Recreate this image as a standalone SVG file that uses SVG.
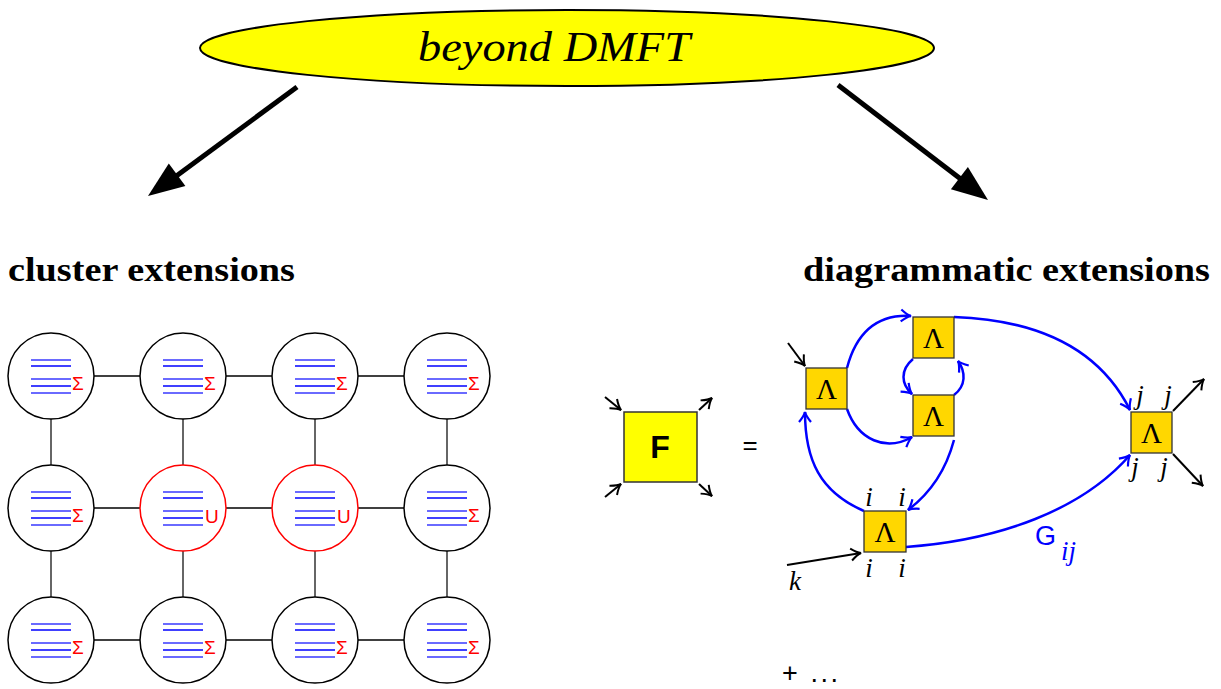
<svg xmlns="http://www.w3.org/2000/svg" width="1221" height="689" viewBox="0 0 1221 689">
  <style>
    .site { fill: #ffffff; stroke: #000000; stroke-width: 1.5; }
    .site.u { stroke: #ff0000; }
    .hbond { stroke: #000000; stroke-width: 1.3; }
    .vbond { stroke: #666666; stroke-width: 2; }
    .lvl1 { stroke: #6a6aff; stroke-width: 2; }
    .lvl2 { stroke: #0000ff; stroke-width: 1.5; }
    .mark { font-family: "Liberation Sans", "DejaVu Sans", sans-serif; font-size: 19px; fill: #ff0000; }
    .vertex rect { fill: #ffd700; stroke: #333333; stroke-width: 1.3; }
    .lam { font-family: "Liberation Serif", "DejaVu Serif", serif; font-size: 29px; fill: #000000; text-anchor: middle; }
    .idx { font-family: "Liberation Serif", "DejaVu Serif", serif; font-style: italic; font-size: 27px; fill: #000000; text-anchor: middle; }
    .prop { fill: none; stroke: #0000ff; stroke-width: 2.5; marker-end: url(#vb); }
    .leg { fill: none; stroke: #000000; stroke-width: 2; marker-end: url(#vk); }
    .heading { font-family: "Liberation Serif", "DejaVu Serif", serif; font-weight: bold; font-size: 34px; fill: #000000; }
  </style>
  <defs>
    <marker id="vb" viewBox="-12 -8 14 16" refX="0" refY="0" markerWidth="14" markerHeight="16" markerUnits="userSpaceOnUse" orient="auto">
      <path d="M-10,-6 Q-4,-1 0,0 Q-4,1 -10,6" fill="none" stroke="#0000ff" stroke-width="2.2"/>
    </marker>
    <marker id="vk" viewBox="-12 -8 14 16" refX="0" refY="0" markerWidth="14" markerHeight="16" markerUnits="userSpaceOnUse" orient="auto">
      <path d="M-10,-6 Q-4,-1 0,0 Q-4,1 -10,6" fill="none" stroke="#000000" stroke-width="2"/>
    </marker>
    <g id="levels">
      <line class="lvl1" x1="-20" y1="-16" x2="20" y2="-16"/>
      <line class="lvl2" x1="-20" y1="-10" x2="20" y2="-10"/>
      <line class="lvl1" x1="-20" y1="3" x2="20" y2="3"/>
      <line class="lvl2" x1="-20" y1="10" x2="20" y2="10"/>
      <line class="lvl1" x1="-20" y1="17" x2="20" y2="17"/>
    </g>
  </defs>

  <rect width="1221" height="689" fill="#ffffff"/>

  <!-- title -->
  <g id="title">
    <ellipse cx="567" cy="48" rx="367" ry="38" fill="#ffff00" stroke="#000000" stroke-width="2"/>
    <text x="554" y="61" text-anchor="middle" font-family="Liberation Serif, DejaVu Serif, serif" font-style="italic" font-size="43" textLength="272" lengthAdjust="spacingAndGlyphs">beyond DMFT</text>
  </g>

  <!-- branch arrows -->
  <g id="branches" stroke="#000000" stroke-width="5">
    <line x1="297" y1="87" x2="175" y2="177"/>
    <polygon points="148,196 185.4,186.1 168.8,163.5" fill="#000000" stroke="none"/>
    <line x1="838" y1="85" x2="962" y2="180"/>
    <polygon points="988,200 950.9,189.2 967.9,167.0" fill="#000000" stroke="none"/>
  </g>

  <text id="cluster-heading" class="heading" x="8" y="281" textLength="287" lengthAdjust="spacingAndGlyphs">cluster extensions</text>
  <text id="diagram-heading" class="heading" x="803" y="281" textLength="407" lengthAdjust="spacingAndGlyphs">diagrammatic extensions</text>

  <!-- lattice bonds -->
  <g id="bonds">
    <line class="hbond" x1="94" y1="376" x2="140" y2="376"/>
    <line class="hbond" x1="226" y1="376" x2="272" y2="376"/>
    <line class="hbond" x1="358" y1="376" x2="404" y2="376"/>
    <line class="hbond" x1="94" y1="508" x2="140" y2="508"/>
    <line class="hbond" x1="226" y1="508" x2="272" y2="508"/>
    <line class="hbond" x1="358" y1="508" x2="404" y2="508"/>
    <line class="hbond" x1="94" y1="640" x2="140" y2="640"/>
    <line class="hbond" x1="226" y1="640" x2="272" y2="640"/>
    <line class="hbond" x1="358" y1="640" x2="404" y2="640"/>
    <line class="vbond" x1="51" y1="419" x2="51" y2="465"/>
    <line class="vbond" x1="183" y1="419" x2="183" y2="465"/>
    <line class="vbond" x1="315" y1="419" x2="315" y2="465"/>
    <line class="vbond" x1="447" y1="419" x2="447" y2="465"/>
    <line class="vbond" x1="51" y1="551" x2="51" y2="597"/>
    <line class="vbond" x1="183" y1="551" x2="183" y2="597"/>
    <line class="vbond" x1="315" y1="551" x2="315" y2="597"/>
    <line class="vbond" x1="447" y1="551" x2="447" y2="597"/>
  </g>

  <!-- lattice sites -->
  <g id="site-0-0" transform="translate(51,376)"><circle class="site" r="43"/><use href="#levels"/><text class="mark" x="21" y="14">Σ</text></g>
  <g id="site-0-1" transform="translate(183,376)"><circle class="site" r="43"/><use href="#levels"/><text class="mark" x="21" y="14">Σ</text></g>
  <g id="site-0-2" transform="translate(315,376)"><circle class="site" r="43"/><use href="#levels"/><text class="mark" x="21" y="14">Σ</text></g>
  <g id="site-0-3" transform="translate(447,376)"><circle class="site" r="43"/><use href="#levels"/><text class="mark" x="21" y="14">Σ</text></g>
  <g id="site-1-0" transform="translate(51,508)"><circle class="site" r="43"/><use href="#levels"/><text class="mark" x="21" y="14">Σ</text></g>
  <g id="site-1-1" transform="translate(183,508)"><circle class="site u" r="43"/><use href="#levels"/><text class="mark" x="22" y="15" font-size="21">U</text></g>
  <g id="site-1-2" transform="translate(315,508)"><circle class="site u" r="43"/><use href="#levels"/><text class="mark" x="22" y="15" font-size="21">U</text></g>
  <g id="site-1-3" transform="translate(447,508)"><circle class="site" r="43"/><use href="#levels"/><text class="mark" x="21" y="14">Σ</text></g>
  <g id="site-2-0" transform="translate(51,640)"><circle class="site" r="43"/><use href="#levels"/><text class="mark" x="21" y="14">Σ</text></g>
  <g id="site-2-1" transform="translate(183,640)"><circle class="site" r="43"/><use href="#levels"/><text class="mark" x="21" y="14">Σ</text></g>
  <g id="site-2-2" transform="translate(315,640)"><circle class="site" r="43"/><use href="#levels"/><text class="mark" x="21" y="14">Σ</text></g>
  <g id="site-2-3" transform="translate(447,640)"><circle class="site" r="43"/><use href="#levels"/><text class="mark" x="21" y="14">Σ</text></g>

  <!-- full vertex F -->
  <g id="vertex-F">
    <rect x="624" y="412" width="73" height="70" fill="#ffff00" stroke="#333333" stroke-width="1.5"/>
    <text x="660" y="458" text-anchor="middle" font-family="Liberation Sans, DejaVu Sans, sans-serif" font-weight="bold" font-size="32">F</text>
    <path class="leg" d="M605,397 L621,410"/>
    <path class="leg" d="M605,497 L621,484"/>
    <path class="leg" d="M699,410 L712,398"/>
    <path class="leg" d="M699,484 L712,496"/>
  </g>
  <text id="equals" x="750" y="454" text-anchor="middle" font-family="Liberation Sans, DejaVu Sans, sans-serif" font-size="26">=</text>

  <!-- propagators and external legs -->
  <g id="connectors">
    <path class="prop" d="M847,368 C856,334 876,314 911,316"/>
    <path class="prop" d="M847,409 C858,440 886,452 912,437"/>
    <path class="prop" d="M913,359 C900,370 901,384 912,394"/>
    <path class="prop" d="M954,395 C966,386 966,372 958,361"/>
    <path class="prop" d="M954,317 C1040,320 1100,350 1130,410"/>
    <path class="prop" d="M954,440 C946,470 932,492 908,510"/>
    <path class="prop" d="M864,511 C820,492 805,460 805,412"/>
    <path class="prop" d="M906,547 C1000,540 1082,510 1130,455"/>
    <path class="leg" d="M788,343 L805,366"/>
    <path class="leg" d="M787,565 L861,553"/>
    <path class="leg" d="M1173,411 L1204,379"/>
    <path class="leg" d="M1173,454 L1203,486"/>
  </g>

  <!-- vertex functions -->
  <g id="lambda-a" class="vertex"><rect x="806" y="368" width="41" height="41"/><text class="lam" x="826.5" y="399">Λ</text></g>
  <g id="lambda-b" class="vertex"><rect x="913" y="317" width="41" height="41"/><text class="lam" x="933.5" y="348">Λ</text></g>
  <g id="lambda-c" class="vertex"><rect x="913" y="395" width="41" height="41"/><text class="lam" x="933.5" y="426">Λ</text></g>
  <g id="lambda-i" class="vertex">
    <rect x="864" y="511" width="42" height="41"/><text class="lam" x="885" y="542">Λ</text>
    <text class="idx" x="869" y="506">i</text><text class="idx" x="902" y="506">i</text>
    <text class="idx" x="869" y="577">i</text><text class="idx" x="902" y="577">i</text>
  </g>
  <g id="lambda-j" class="vertex">
    <rect x="1131" y="412" width="41" height="41"/><text class="lam" x="1151.5" y="443">Λ</text>
    <text class="idx" x="1140" y="404">j</text><text class="idx" x="1168" y="404">j</text>
    <text class="idx" x="1135" y="476">j</text><text class="idx" x="1164" y="476">j</text>
  </g>

  <text id="k-label" class="idx" x="795" y="590">k</text>
  <g id="g-label" fill="#0000ff">
    <text x="1035" y="545" font-family="Liberation Sans, DejaVu Sans, sans-serif" font-size="27">G</text>
    <text x="1061" y="560" font-family="Liberation Serif, DejaVu Serif, serif" font-style="italic" font-size="27">ij</text>
  </g>
  <text id="more" x="782" y="682" font-family="Liberation Sans, DejaVu Sans, sans-serif" font-size="27" textLength="56" lengthAdjust="spacing">+ ...</text>
</svg>
